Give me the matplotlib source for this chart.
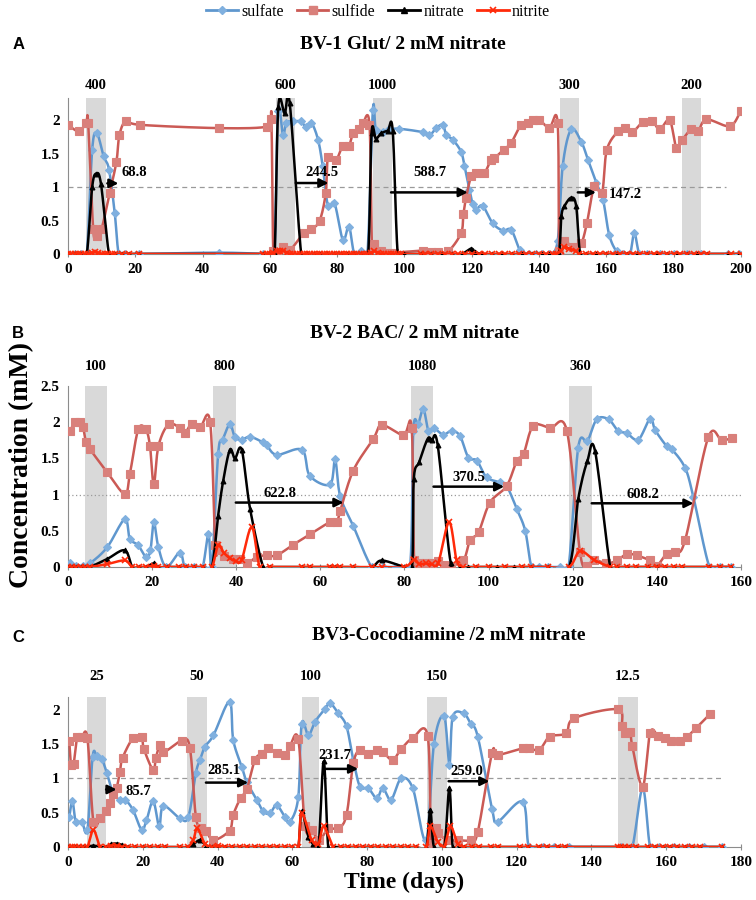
import numpy as np
import matplotlib
matplotlib.use("Agg")
import matplotlib.pyplot as plt
from matplotlib.lines import Line2D
from matplotlib.ticker import FuncFormatter

plt.rcParams['font.family'] = ['Liberation Serif', 'DejaVu Serif']

# ---------------- panel A: BV-1 Glut ----------------
a_sulfate = [(0,0),(2,0),(4,0),(5.6,0),(7.2,1.56),(8.6,1.8),(10.6,1.46),(12.2,1.26),(13.9,0.61),(15.1,0),
             (17,0),(21,0),(45,0.02),(58,0),(60,0),(61.4,0.02),(62.4,2.13),(63.9,1.78),(64.9,1.96),(67,1.98),
             (69.3,1.98),(70.6,1.9),(72.3,1.96),(74.3,1.71),(75.7,1.31),(77.3,0.71),(79.2,0.76),(81.7,0.21),
             (83.5,0.41),(85.1,0),(87.1,0.05),(89,0.02),(90.6,2.15),(91.5,1.85),(93.5,1.82),(95.5,1.86),
             (98.5,1.87),(105.4,1.82),(107.4,1.77),(109.4,1.88),(111.4,1.93),(112.4,1.78),(114.3,1.71),
             (116.8,1.53),(117.8,1.32),(119.3,0.96),(120.3,0.74),(121.2,0.66),(123.2,0.72),(126.2,0.46),
             (129.2,0.35),(131.7,0.36),(134.2,0.06),(135.2,0),(137,0),(139,0),(141,0),(143,0),(145.5,0.19),
             (147,1.31),(149.5,1.86),(152.5,1.68),(154.5,1.41),(157,1.06),(159,0.81),(160.8,0.29),(163,0.04),
             (165,0),(167,0),(168.3,0.31),(169.8,0),(172,0),(176,0),(180,0),(184,0),(188,0),(196,0),(199.5,0)]
a_sulfide = [(0,1.93),(3.3,1.83),(5.4,1.96),(6,1.95),(7.5,0.37),(8.5,0.27),(10,0.38),(12.4,0.91),(14.4,1.38),
             (15.3,1.78),(17.3,1.99),(21.3,1.93),(45,1.88),(59,1.9),(60.4,2.02),(61,0.05),(62,0.02),(64,0.1),
             (66,0.06),(70,0.31),(72.3,0.37),(74.8,0.5),(76.6,0.91),(77.3,1.45),(79.7,1.41),(81.7,1.62),
             (83.5,1.62),(84.7,1.8),(86.4,1.87),(87.6,1.95),(89.6,1.93),(90.3,0.1),(91,0.15),(93,0.05),(95,0.02),
             (97,0.02),(105.4,0.05),(108,0.03),(110,0.03),(113,0.04),(116.8,0.31),(117.5,0.59),(118.3,0.84),
             (119.8,1.16),(121.2,1.21),(123.7,1.21),(125.7,1.41),(126.7,1.43),(129.5,1.56),(131.7,1.66),
             (134.6,1.93),(136.6,1.95),(138.1,2.0),(140.1,2.0),(143,1.88),(145.5,1.96),(146,0.05),(147.5,0.19),
             (150,0.11),(152.5,0.16),(154.2,0.46),(156.4,1.01),(158.7,0.91),(160.1,1.55),(163.4,1.83),
             (165.4,1.88),(167.7,1.82),(170.8,1.97),(173.6,1.99),(175.8,1.86),(178.8,2.0),(180.8,1.58),
             (182.6,1.71),(185.2,1.86),(187.2,1.83),(189.7,2.01),(196.7,1.91),(199.9,2.14)]
a_nitrate = [(0,0),(2,0),(4,0),(5.6,0),(7.2,1.0),(8.4,1.2),(9.8,1.05),(12.2,0),(14,0),(16,0),(18,0),(21,0),
             (58,0),(60,0),(61.4,0),(62.5,2.2),(64.4,2.1),(65.9,2.25),(69.3,0),(71,0),(73,0),(75,0),(77,0),
             (79,0),(81,0),(83,0),(85,0),(87,0),(89.2,0),(90.2,1.8),(91.5,1.72),(93,1.8),(95,1.84),(96.5,1.84),
             (98,0),(100,0),(105,0),(108,0),(111,0),(114,0),(117,0),(119.8,0.08),(121,0.03),(123,0),(126,0),
             (129,0),(132,0),(135,0),(138,0),(141,0),(143,0),(145.8,0),(146.6,0.56),(147.5,0.71),(149.5,0.84),
             (151,0.72),(152.2,0),(154,0),(157,0),(160,0),(163,0),(166,0),(169,0),(172,0),(175,0),(178,0),
             (181,0),(184,0),(187,0),(190,0),(196,0),(199.5,0)]
a_nitrite = [(0,0),(1,0),(2,0),(3,0),(4,0),(5,0),(6,0),(7,0.02),(8,0.03),(9,0.02),(10,0),(11,0),(12,0),(13,0),
             (14,0),(16,0),(18,0),(21,0),(58,0),(59,0),(60,0),(61,0.02),(62,0.05),(63,0.04),(64,0.05),(65,0.02),
             (66,0),(67,0),(68,0),(69,0),(70,0),(71,0),(72,0),(73,0),(74,0),(75,0),(76,0),(77,0),(78,0),(79,0),
             (80,0),(81,0),(82,0),(83,0),(84,0),(85,0),(86,0),(87,0),(88,0),(89,0),(90,0.02),(91,0.04),(92,0.02),
             (93,0),(94,0),(95,0),(96,0),(97,0),(98,0),(99,0),(105,0),(106,0),(108,0),(110,0),(112,0),(114,0),
             (116,0),(118,0),(120,0),(122,0),(124,0),(126,0),(128,0),(130,0),(132,0),(134,0),(136,0),(138,0),
             (140,0),(142,0),(144,0),(145,0),(146.5,0.05),(147.5,0.1),(149,0.08),(151,0.04),(152,0),(154,0),
             (156,0),(158,0),(160,0),(162,0),(164,0),(166,0),(168,0),(170,0),(172,0),(174,0),(176,0),(178,0),
             (180,0),(182,0),(184,0),(186,0),(188,0),(190,0),(197,0),(200,0)]
a_spans = [(5.3, 11.3, '400'), (61.8, 67.5, '600'), (90.5, 96.3, '1000'), (146.2, 151.9, '300'), (182.5, 188.1, '200')]
a_arrows = [(11.7, 15.0, 1.055), (67.7, 77.4, 1.06), (96.0, 118.8, 0.92), (151.5, 156.9, 0.92)]
a_notes = [(19.8, 1.21, '68.8'), (75.4, 1.21, '244.5'), (107.5, 1.21, '588.7'), (165.7, 0.89, '147.2')]

# ---------------- panel B: BV-2 BAC ----------------
b_sulfate = [(0.5,0.05),(2,0.02),(3.5,0.02),(5.2,0.05),(9.3,0.27),(13.5,0.66),(14.7,0.39),(16.7,0.3),(18.5,0.14),
             (19.6,0.23),(20.4,0.62),(21.5,0.27),(23.4,0),(26.6,0.2),(27.8,0),(30,0),(32,0),(33.4,0.46),(34.2,0),
             (35.7,1.56),(36.8,1.76),(38.5,1.97),(39.7,1.79),(41.3,1.76),(43.3,1.8),(46.4,1.72),(47.2,1.69),
             (49.6,1.55),(55.6,1.62),(57.5,1.26),(62.3,1.14),(63.5,1.49),(64.7,0.98),(67.8,0.57),(72.2,0),(75,0),
             (78,0),(81.3,0),(82.1,1.88),(83.3,1.98),(84.5,2.18),(85.7,1.88),(86.9,1.92),(89.2,1.83),(91.2,1.88),
             (93.2,1.81),(95.2,1.51),(97.2,1.47),(99.5,1.24),(102.7,1.17),(104.3,1.12),(106.7,0.8),(108.7,0.5),
             (110.2,0),(112,0),(114,0),(117,0),(119,0),(121.3,1.65),(123.5,1.74),(125.7,2.04),(128.5,2.04),
             (130.8,1.88),(132.8,1.85),(135.6,1.76),(138.4,2.05),(139.6,1.89),(142.3,1.67),(143.5,1.63),
             (146.7,1.37),(148.7,0.96),(152.5,0),(155,0),(157.5,0)]
b_sulfide = [(0.5,1.88),(1.7,2.0),(2.9,2.0),(3.6,1.93),(4.3,1.72),(5.2,1.63),(9.3,1.31),(13.5,1.01),(14.7,1.28),
             (16.7,1.9),(18.5,1.9),(19.5,1.67),(20.4,1.14),(21.5,1.67),(23.9,1.97),(26.6,1.92),(27.8,1.85),
             (29.4,1.98),(31.4,1.93),(33.8,2.0),(35.0,0.3),(35.7,0.23),(37,0.15),(39.3,0.11),(40.9,0.11),
             (42.5,0.05),(44.9,0.14),(47.2,0.16),(49.6,0.16),(53.6,0.31),(57.5,0.45),(62.3,0.62),(63.9,0.62),
             (64.7,0.77),(67.8,1.33),(72.6,1.77),(74.6,1.96),(79.7,1.82),(81.7,1.92),(82.3,0.1),(83.5,0.05),
             (85,0.05),(86.5,0.05),(88,0.08),(89.5,0.03),(91,0.02),(94,0.09),(95.6,0.37),(97.6,0.48),(100.3,0.89),
             (104.3,1.12),(106.7,1.47),(108.3,1.56),(110.6,1.95),(114.6,1.92),(118.6,1.88),(121.7,0.21),
             (123.3,0.02),(125,0.1),(128,0.05),(130.5,0.09),(132.8,0.18),(135.2,0.16),(138.4,0.09),(140,0.02),
             (142.3,0.18),(144.3,0.21),(146.7,0.37),(152.2,1.79),(155.4,1.75),(157.8,1.78)]
b_nitrate = [(0,0),(1,0),(2,0),(3,0),(4,0),(5.2,0),(9.3,0.11),(13.5,0.23),(15.3,0),(17,0),(18.5,0),(20.4,0.05),
             (21.5,0),(23.5,0),(26.5,0),(28,0),(30,0),(32,0),(34.2,0),(35.7,0.71),(36.9,1.19),(38.5,1.62),
             (39.7,1.5),(41.3,1.62),(43.3,0.8),(46.4,0),(48,0),(55.6,0),(57.5,0),(62.3,0),(63.5,0),(64.7,0),
             (67.8,0),(72.2,0),(74.6,0.09),(80,0),(81.8,0),(82.2,1.21),(83.5,1.45),(85.5,1.77),(86.5,1.75),
             (87.9,1.68),(91,0.05),(93.2,0),(95,0),(97,0),(100,0),(102,0),(104,0),(106,0),(108,0),(110,0),
             (114,0),(119.1,0),(121.3,0.94),(123.5,1.47),(125.3,1.6),(128.9,0),(130.5,0),(133,0),(135,0),
             (138,0),(140,0),(142,0),(144,0),(146,0),(152.5,0),(155,0),(157.5,0)]
b_nitrite = [(0,0),(1,0),(2,0),(3,0),(4,0),(5.2,0),(9.3,0.04),(13.5,0.09),(15.3,0),(17,0),(18.5,0),(20.4,0.02),
             (21.5,0),(23.5,0),(26.5,0),(28,0),(30,0),(32,0),(34.2,0),(35.7,0.3),(37,0.2),(38.5,0.12),(40,0.08),
             (41.3,0.1),(43.7,0.55),(45.6,0),(48,0),(55.6,0),(57.5,0),(62.3,0),(63.5,0),(64.7,0),(67.8,0),
             (72.2,0),(74.6,0),(80,0),(82.3,0.1),(83.5,0.04),(85,0.05),(86.5,0.04),(88,0.05),(90.6,0.62),
             (92.4,0.09),(94,0),(97,0),(100,0),(104,0),(108,0),(110,0),(114,0),(119.1,0),(121.7,0.22),(125,0.1),
             (128.9,0),(130.5,0),(133,0),(135,0),(138,0),(140,0),(142,0),(144,0),(146,0),(152.5,0),(155,0),
             (157.5,0)]
b_spans = [(4.0, 9.3, '100'), (34.5, 39.9, '800'), (81.6, 86.7, '1080'), (119.1, 124.5, '360')]
b_arrows = [(39.9, 65.5, 0.89), (86.9, 103.7, 1.11), (124.5, 148.7, 0.88)]
b_notes = [(50.5, 1.01, '622.8'), (95.4, 1.24, '370.5'), (136.6, 1.0, '608.2')]

# ---------------- panel C: BV3-Cocodiamine ----------------
c_sulfate = [(0.35,0.44),(1.2,0.67),(2.1,0.37),(3.7,0.37),(5.2,0.25),(6.6,1.32),(7.7,1.33),(9.0,1.29),(10.4,1.08),
             (12.1,0.78),(13.9,0.69),(15.3,0.69),(17.4,0.54),(19.7,0.25),(21.0,0.39),(22.8,0.67),(24.4,0.3),
             (25.5,0.6),(29.9,0.42),(32.2,0.44),(34.2,1.08),(35.3,1.27),(36.6,1.46),(38.9,1.63),(43.2,2.12),
             (44.2,1.56),(46.5,1.17),(47.8,0.95),(50.5,0.69),(52.2,0.52),(54.0,0.49),(55.8,0.61),(58.0,0.44),
             (59.4,0.37),(61.6,0.73),(62.5,1.8),(64.3,1.63),(66.1,1.83),(68.8,2.02),(70.1,2.1),(72.3,1.95),
             (74.5,1.76),(76.3,1.27),(78.1,0.88),(80.3,0.86),(82.6,0.71),(84.2,0.86),(86.4,0.69),(89.1,1.0),
             (92.2,0.86),(95.8,0.1),(97.9,1.51),(100.6,1.91),(102.0,1.2),(102.9,1.9),(105.8,1.95),
             (107.7,1.8),(109.6,1.61),(113.4,0.56),(114.9,0.37),(121.6,0.66),(123.3,0),(127,0),(130,0),(134,0),
             (148,0),(150.9,0),(153.7,0.86),(155.7,0),(158,0),(162,0),(166,0),(170,0),(175,0)]
c_sulfide = [(0.35,1.54),(0.8,1.2),(1.5,1.21),(2.5,1.61),(3.7,1.61),(5.2,1.59),(6.8,0.37),(8.6,0.42),(10.2,0.52),
             (11.2,0.64),(12.1,0.78),(13.0,0.86),(13.9,1.1),(14.6,1.3),(17.4,1.59),(19.7,1.61),(20.3,1.43),
             (22.8,1.12),(23.5,1.3),(24.6,1.49),(25.5,1.38),(30.4,1.55),(32.6,1.45),(34.2,0.44),(35.7,0.27),
             (36.9,0.24),(38.9,0.1),(43.2,0.24),(44.2,0.47),(46.2,0.72),(47.8,0.84),(50.0,1.27),(51.8,1.36),
             (53.6,1.44),(55.8,1.37),(58.0,1.34),(59.4,1.48),(61.6,1.57),(63.4,0.3),(65.2,0.25),(67.2,0.1),
             (69.6,0.27),(72.3,0.27),(74.5,0.47),(76.3,1.22),(78.1,1.42),(80.3,1.36),(82.6,1.42),(84.2,1.39),
             (86.8,1.27),(89.1,1.43),(92.2,1.59),(96.2,1.62),(97.1,0.05),(98.3,0.27),(98.9,0.2),(101.5,0.1),
             (104.2,0.1),(107.8,0.1),(109.6,0.22),(113.4,1.37),(114.9,1.34),(121.6,1.44),(123.4,1.44),(126.1,1.42),
             (128.8,1.61),(133.2,1.66),(135.4,1.88),(147.0,2.01),(148.2,1.76),(149.1,1.66),(150.4,1.68),
             (150.9,1.48),(153.7,0.88),(155.7,1.67),(157.8,1.62),(159.6,1.59),(161.4,1.54),(163.6,1.54),
             (165.6,1.61),(167.9,1.73),(171.7,1.94)]
c_nitrate = [(0,0),(1,0),(2,0),(3,0),(4,0),(5.2,0),(6.8,0.02),(8.6,0),(10.2,0),(11.5,0.04),(13,0.05),(14.5,0.03),
             (16,0),(18,0),(20,0),(22,0),(24,0),(26,0),(30,0),(32,0),(33.5,0.04),(35.3,0.1),(37,0.02),(38.5,0),
             (40,0),(42,0),(44,0),(46,0),(48,0),(50,0),(52,0),(54,0),(56,0),(58,0),(60,0),(61.6,0),(62.5,0.52),
             (64.3,0.15),(65.5,0.05),(67,0),(68.4,1.25),(69.6,0),(71,0),(73,0),(75,0),(77,0),(79,0),(81,0),
             (83,0),(85,0),(87,0),(89,0),(91,0),(93,0),(95.8,0),(96.9,0.54),(97.9,0),(100.6,0),(102.0,0.86),
             (102.9,0),(104.5,0),(106,0),(108,0),(110,0),(113,0),(115,0),(121,0),(123,0),(126,0),(128,0),
             (131,0),(133,0),(147,0),(148,0),(149,0),(150,0),(152,0),(155,0),(157,0),(159,0),(161,0),(163,0),
             (165,0),(167,0),(169,0),(175,0)]
c_nitrite = [(0,0),(1,0),(2,0),(3,0),(4,0),(5.2,0),(6.8,0.25),(8.6,0),(10.2,0),(11.5,0.02),(13,0.02),(14.5,0),
             (16,0),(18,0),(20,0),(22,0),(24,0),(26,0),(30,0),(32,0),(33.5,0.1),(34.6,0.27),(36.6,0.05),(38.5,0),
             (40,0.02),(42,0),(44,0),(46,0),(48,0),(50,0),(52,0),(54,0),(56,0),(58,0),(60,0),(61.6,0),(62.5,0.49),
             (65.2,0.1),(67,0.05),(68.4,0.3),(71,0),(73,0),(75,0),(77,0),(79,0),(81,0),(83,0),(85,0),(87,0),
             (89,0),(91,0),(93,0),(95.8,0),(96.9,0.3),(98.9,0.08),(100.6,0),(102.3,0.3),(104.2,0.05),(106,0),
             (108,0),(110,0),(113,0),(115,0),(121,0),(123,0),(126,0),(128,0),(131,0),(133,0),(147,0),(148,0),
             (149,0),(150,0),(152,0),(155,0),(157,0),(159,0),(161,0),(163,0),(165,0),(167,0),(169,0),(175,0)]
c_spans = [(5.0, 10.2, '25'), (31.9, 37.1, '50'), (62.5, 67.2, '100'), (96.0, 101.4, '150'), (147.1, 152.4, '12.5')]
c_arrows = [(10.2, 13.0, 0.84), (36.9, 48.2, 0.94), (68.3, 77.6, 1.14), (101.8, 112.7, 0.96)]
c_notes = [(18.9, 0.81, '85.7'), (41.7, 1.12, '285.1'), (71.4, 1.34, '231.7'), (106.6, 1.10, '259.0')]

SULFATE = '#5F97CE'
SULFATE_M = '#80B0DF'
SULFIDE = '#CB5A55'
SULFIDE_M = '#D9807B'
NITRITE = '#FF2A0A'


def smooth(ax, pts, n=14):
    # Excel-style smoothed line (Catmull-Rom in screen space)
    P = ax.transData.transform(np.array(pts, dtype=float))
    P = np.vstack([P[0], P, P[-1]])
    t = np.linspace(0, 1, n)[:, None]
    segs = []
    for i in range(1, len(P) - 2):
        p0, p1, p2, p3 = P[i - 1], P[i], P[i + 1], P[i + 2]
        c1 = p1 + (p2 - p0) / 6
        c2 = p2 - (p3 - p1) / 6
        segs.append((1 - t) ** 3 * p1 + 3 * (1 - t) ** 2 * t * c1 + 3 * (1 - t) * t ** 2 * c2 + t ** 3 * p2)
    curve = ax.transData.inverted().transform(np.vstack(segs))
    return curve[:, 0], curve[:, 1]


def series(ax, pts, color, mcolor, marker, ms, lw=1.8, mew=0.8, z=3):
    sx, sy = smooth(ax, pts)
    ax.plot(sx, sy, color=color, lw=lw, zorder=z)
    x = [p[0] for p in pts]
    y = [p[1] for p in pts]
    ax.plot(x, y, ls='none', marker=marker, ms=ms, color=mcolor, mec=mcolor, mew=mew, zorder=z + 0.1)


fig = plt.figure(figsize=(7.56, 9.0), dpi=100)

panels = [
    dict(rect=[0.0899, 0.7178, 0.8903, 0.1733], xmax=200, ymax=2.33, yt=[0, 0.5, 1, 1.5, 2],
         s=a_sulfate, d=a_sulfide, n=a_nitrate, i=a_nitrite, spans=a_spans, arrows=a_arrows, notes=a_notes,
         ref=(195.5, (0, (4, 3))), lab_off=9),
    dict(rect=[0.0899, 0.3700, 0.8903, 0.2011], xmax=160, ymax=2.5, yt=[0, 0.5, 1, 1.5, 2, 2.5],
         s=b_sulfate, d=b_sulfide, n=b_nitrate, i=b_nitrite, spans=b_spans, arrows=b_arrows, notes=b_notes,
         ref=(160, (0, (1, 2))), lab_off=14),
    dict(rect=[0.0899, 0.0589, 0.8903, 0.1667], xmax=180, ymax=2.19, yt=[0, 0.5, 1, 1.5, 2],
         s=c_sulfate, d=c_sulfide, n=c_nitrate, i=c_nitrite, spans=c_spans, arrows=c_arrows, notes=c_notes,
         ref=(175, (0, (4, 3))), lab_off=15),
]

for p in panels:
    ax = fig.add_axes(p['rect'])
    ax.set_xlim(0, p['xmax'])
    ax.set_ylim(0, p['ymax'])
    ax.set_xticks(np.arange(0, p['xmax'] + 1, 20))
    ax.set_yticks(p['yt'])
    ax.yaxis.set_major_formatter(FuncFormatter(lambda v, pos: '%g' % v))
    for sp in ['top', 'right']:
        ax.spines[sp].set_visible(False)
    for sp in ['left', 'bottom']:
        ax.spines[sp].set_color('#8C8C8C')
        ax.spines[sp].set_linewidth(0.8)
    ax.tick_params(axis='x', direction='inout', length=5, color='#8C8C8C', labelsize=11, pad=4)
    ax.tick_params(axis='y', length=0, labelsize=11, pad=6)
    for lab in ax.get_xticklabels() + ax.get_yticklabels():
        lab.set_fontweight('bold')

    for x0, x1, lab in p['spans']:
        ax.axvspan(x0, x1, color='#D9D9D9', lw=0, zorder=0)
        ax.annotate(lab, xy=((x0 + x1) / 2, 1), xycoords=('data', 'axes fraction'),
                    xytext=(0, p['lab_off']), textcoords='offset points', ha='center', va='center',
                    fontsize=10.5, fontweight='bold', annotation_clip=False)

    ax.plot([0, p['ref'][0]], [1, 1], color='#9A9A9A', lw=0.9, ls=p['ref'][1], zorder=1)

    series(ax, p['s'], SULFATE, SULFATE_M, 'D', 4.0, z=3)
    series(ax, p['d'], SULFIDE, SULFIDE_M, 's', 6.0, z=4)
    series(ax, p['n'], 'black', 'black', '^', 3.5, z=5)
    series(ax, p['i'], NITRITE, NITRITE, 'x', 4.5, mew=1.2, z=6)

    for x0, x1, y in p['arrows']:
        ax.annotate('', xy=(x1, y), xytext=(x0, y),
                    arrowprops=dict(arrowstyle='-|>', color='black', lw=1.8, mutation_scale=13,
                                    shrinkA=0, shrinkB=0), zorder=8)
    for x, y, lab in p['notes']:
        ax.text(x, y, lab, ha='center', va='center', fontsize=10.5, fontweight='bold', zorder=9)

# titles and panel letters
titles = ['BV-1 Glut/ 2 mM nitrate', 'BV-2 BAC/ 2 mM nitrate', 'BV3-Cocodiamine /2 mM nitrate']
title_xy = [(0.533, 0.951), (0.548, 0.630), (0.594, 0.294)]
letters = ['A', 'B', 'C']
letter_y = [0.951, 0.629, 0.292]
for t, (tx, ty), l, ly in zip(titles, title_xy, letters, letter_y):
    fig.text(tx, ty, t, ha='center', va='center', fontsize=14, fontweight='bold')
    fig.text(0.016, ly, l, ha='left', va='center', fontsize=12, fontweight='bold',
             family=['Liberation Sans', 'DejaVu Sans'])

fig.text(0.029, 0.483, 'Concentration (mM)', rotation=90, ha='center', va='center',
         fontsize=20, fontweight='bold')
fig.text(0.535, 0.02, 'Time (days)', ha='center', va='center', fontsize=17, fontweight='bold')

handles = [
    Line2D([], [], color=SULFATE, lw=2, marker='D', ms=4, mfc=SULFATE_M, mec=SULFATE_M),
    Line2D([], [], color=SULFIDE, lw=2, marker='s', ms=6, mfc=SULFIDE_M, mec=SULFIDE_M),
    Line2D([], [], color='black', lw=2, marker='^', ms=4),
    Line2D([], [], color=NITRITE, lw=2, marker='x', ms=5, mew=1.2),
]
fig.legend(handles, ['sulfate', 'sulfide', 'nitrate', 'nitrite'], loc='center', ncol=4,
           bbox_to_anchor=(0.5, 0.987), frameon=False, fontsize=11.5, handlelength=2.0,
           handletextpad=0.2, columnspacing=0.8, borderpad=0)

fig.savefig('out.png', dpi=100)
